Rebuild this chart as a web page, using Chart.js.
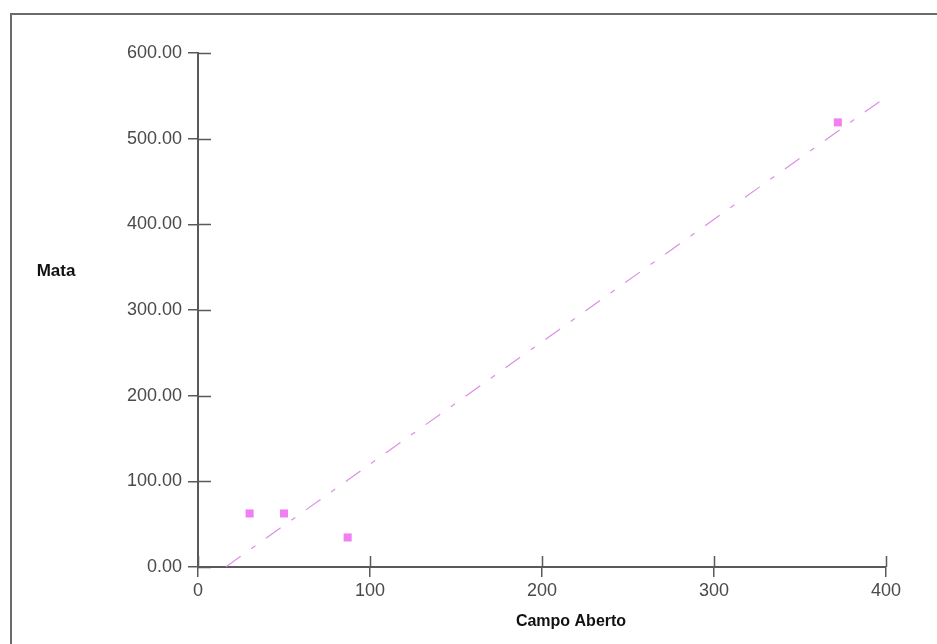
<!DOCTYPE html>
<html>
<head>
<meta charset="utf-8">
<script src="https://cdn.jsdelivr.net/npm/chart.js@4.4.0/dist/chart.umd.min.js"></script>
<style>
  html, body { margin: 0; padding: 0; background: #fff; overflow: hidden; }
  #wrap { position: relative; width: 937px; height: 644px; }
  #frame { position: absolute; left: 10px; top: 13px; width: 1000px; height: 1000px; border: 2px solid #6a6a6a; box-sizing: border-box; }
  #c { position: absolute; left: 0; top: 0; }
</style>
</head>
<body>
<div id="wrap">
  <div id="frame"></div>
  <canvas id="c" width="937" height="644"></canvas>
</div>
<script>
// ---- data ----
const campoAberto = [30, 50, 87, 372];      // x values
const mata = [62.5, 62.5, 34.5, 519];         // y values
const xTickValues = [0, 100, 200, 300, 400];
const yTickValues = [0, 100, 200, 300, 400, 500, 600];
const trendXRange = [16.3, 397];            // extent of the drawn trend line
const xTitle = 'Campo Aberto';
const yTitle = 'Mata';

// least-squares trend line from the data
const n = campoAberto.length;
const mx = campoAberto.reduce((a, b) => a + b, 0) / n;
const my = mata.reduce((a, b) => a + b, 0) / n;
let sxy = 0, sxx = 0;
for (let i = 0; i < n; i++) { sxy += (campoAberto[i] - mx) * (mata[i] - my); sxx += (campoAberto[i] - mx) ** 2; }
const slope = sxy / sxx, intercept = my - slope * mx;
const trendPoints = trendXRange.map(x => ({ x: x, y: intercept + slope * x }));
const scatterPoints = campoAberto.map((x, i) => ({ x: x, y: mata[i] }));

const AXIS = '#5a5a5a';
const FONT = "'Liberation Sans', Arial, sans-serif";

const innerTicks = {
  id: 'innerTicks',
  afterDraw(chart) {
    const ctx = chart.ctx, ca = chart.chartArea;
    const xs = chart.scales.x, ys = chart.scales.y;
    ctx.save();
    ctx.strokeStyle = AXIS;
    ctx.lineWidth = 1.5;
    ctx.beginPath();
    xs.ticks.forEach(t => {
      const px = Math.round(xs.getPixelForValue(t.value)) + 0.5;
      ctx.moveTo(px, ca.bottom); ctx.lineTo(px, ca.bottom - 11);
    });
    ys.ticks.forEach(t => {
      const py = Math.round(ys.getPixelForValue(t.value)) + 0.5;
      ctx.moveTo(ca.left, py); ctx.lineTo(ca.left + 13, py);
    });
    ctx.stroke();
    // axis titles
    ctx.fillStyle = '#111';
    ctx.textAlign = 'center';
    ctx.textBaseline = 'middle';
    ctx.font = 'bold 17px ' + FONT;
    ctx.fillText(yTitle, 56, (ys.getPixelForValue(300) + ys.getPixelForValue(400)) / 2 + 4);
    ctx.font = 'bold 16px ' + FONT;
    ctx.fillText(xTitle, 571, 622);
    ctx.restore();
  }
};

new Chart(document.getElementById('c'), {
  data: {
    datasets: [
      {
        type: 'scatter',
        data: scatterPoints,
        pointStyle: 'rect',
        pointRadius: 5.7,
        pointHoverRadius: 5.7,
        backgroundColor: '#f27ff2',
        borderColor: '#f27ff2',
        borderWidth: 0
      },
      {
        type: 'line',
        data: trendPoints,
        borderColor: '#dc8ee4',
        borderWidth: 1.2,
        borderDash: [18, 13, 5, 13],
        pointRadius: 0,
        fill: false
      }
    ]
  },
  options: {
    responsive: false,
    animation: false,
    events: [],
    layout: { padding: { left: 0, top: 53, right: 51, bottom: 0 } },
    plugins: { legend: { display: false }, tooltip: { enabled: false } },
    scales: {
      x: {
        type: 'linear',
        min: 0, max: 400,
        afterBuildTicks: s => { s.ticks = xTickValues.map(v => ({ value: v })); },
        afterFit: s => { s.height = 77; },
        grid: { display: true, drawOnChartArea: false, drawTicks: true, tickLength: 10, color: AXIS, lineWidth: 1.5 },
        border: { display: true, color: AXIS, width: 2 },
        ticks: { color: '#4a4a4a', font: { family: FONT, size: 18 }, padding: 3, maxRotation: 0, callback: v => String(v) }
      },
      y: {
        type: 'linear',
        min: 0, max: 600,
        afterBuildTicks: s => { s.ticks = yTickValues.map(v => ({ value: v })); },
        afterFit: s => { s.width = 198; },
        grid: { display: true, drawOnChartArea: false, drawTicks: true, tickLength: 10, color: AXIS, lineWidth: 1.5 },
        border: { display: true, color: AXIS, width: 2 },
        ticks: { color: '#4a4a4a', font: { family: FONT, size: 18 }, padding: 6, callback: v => Number(v).toFixed(2) }
      }
    }
  },
  plugins: [innerTicks]
});
</script>
</body>
</html>
